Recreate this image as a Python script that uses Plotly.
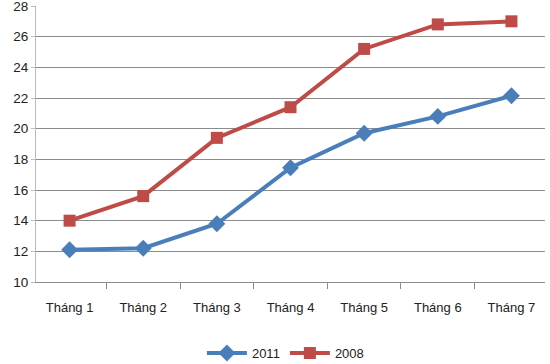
import plotly.graph_objects as go

categories = ["Tháng 1", "Tháng 2", "Tháng 3", "Tháng 4", "Tháng 5", "Tháng 6", "Tháng 7"]
series_2011 = [12.1, 12.2, 13.8, 17.45, 19.7, 20.8, 22.15]
series_2008 = [14.0, 15.6, 19.4, 21.4, 25.2, 26.8, 27.0]
y_ticks = [10, 12, 14, 16, 18, 20, 22, 24, 26, 28]

blue = "#4A7EBB"
red = "#BE4B48"
grid = "#8C8C8C"
font = "Liberation Sans"

fig = go.Figure()
fig.add_trace(go.Scatter(
    x=categories, y=series_2011, name="2011", mode="lines+markers",
    line=dict(color=blue, width=4),
    marker=dict(symbol="diamond", size=13, color=blue),
))
fig.add_trace(go.Scatter(
    x=categories, y=series_2008, name="2008", mode="lines+markers",
    line=dict(color=red, width=4),
    marker=dict(symbol="square", size=12, color=red),
))

fig.update_layout(
    width=550, height=364,
    margin=dict(l=36, r=5, t=6, b=82),
    paper_bgcolor="white", plot_bgcolor="white",
    font=dict(family=font, size=12, color="#222222"),
    showlegend=True,
    legend=dict(orientation="h", x=0.49, xanchor="center",
                yref="container", y=0.03, yanchor="middle",
                font=dict(size=13), itemwidth=40, traceorder="normal"),
)
fig.update_xaxes(
    type="category", showgrid=False, showline=True, linecolor=grid, linewidth=1,
    ticks="outside", tickson="boundaries", ticklen=6, tickcolor=grid,
    tickfont=dict(size=13, color="#222222"), ticklabelstandoff=13,
    automargin=False,
)
fig.update_yaxes(
    range=[10, 28], tickvals=y_ticks, showgrid=True, gridcolor=grid, gridwidth=1,
    showline=True, linecolor="#BBBBBB", linewidth=1,
    ticks="outside", ticklen=4, tickcolor="#BBBBBB",
    tickfont=dict(size=13.5, color="#222222"), zeroline=False,
    automargin=False, ticklabeloverflow="allow",
)

fig.write_html("out.html", config={"displayModeBar": False},
               post_script="document.body.style.margin='0';")
